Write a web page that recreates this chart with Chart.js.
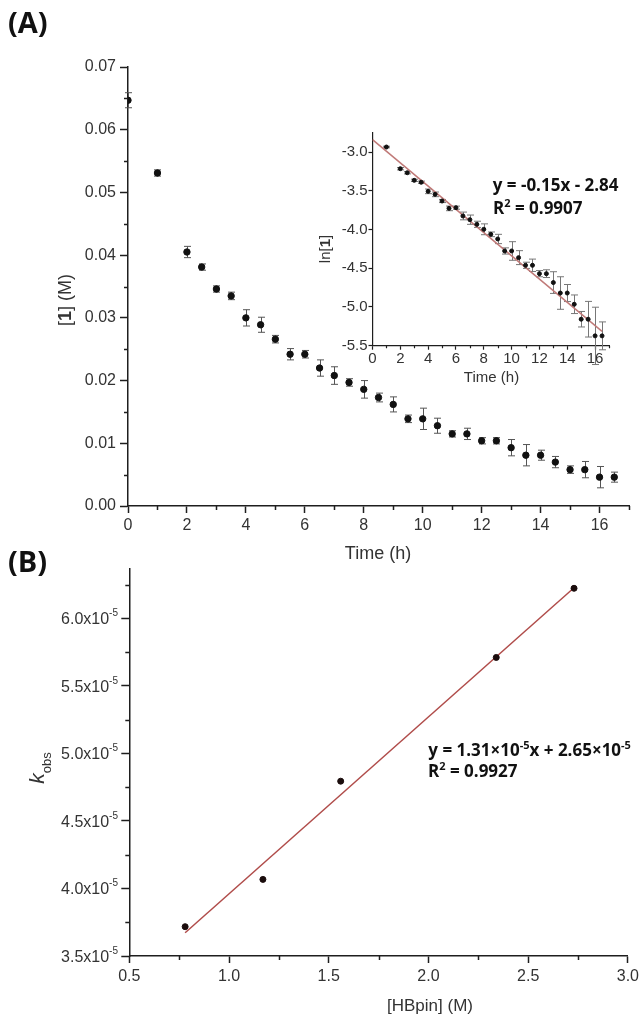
<!DOCTYPE html>
<html>
<head>
<meta charset="utf-8">
<script src="https://cdn.jsdelivr.net/npm/chart.js@4.4.0/dist/chart.umd.min.js"></script>
<style>
  html, body { margin: 0; padding: 0; background: #fff; }
  #page { position: relative; width: 643px; height: 1020px; overflow: hidden; }
  canvas { position: absolute; }
</style>
</head>
<body>
<div id="page">
  <canvas id="chartA" width="643" height="575" style="left:0;top:0"></canvas>
  <canvas id="chartInset" width="343" height="270" style="left:300px;top:120px"></canvas>
  <canvas id="chartB" width="643" height="480" style="left:0;top:540px"></canvas>
</div>
<script>
// ---- panel A: [1] vs time ----
const timeA = [0, 1, 2, 2.5, 3, 3.5, 4, 4.5, 5, 5.5, 6, 6.5, 7, 7.5, 8, 8.5, 9, 9.5, 10, 10.5,
  11, 11.5, 12, 12.5, 13, 13.5, 14, 14.5, 15, 15.5, 16, 16.5];
const concA = [0.0647, 0.0531, 0.0405, 0.0381, 0.0346, 0.0335, 0.0300, 0.0289, 0.0266, 0.0242,
  0.0242, 0.0220, 0.0208, 0.0197, 0.0186, 0.0173, 0.0162, 0.0139, 0.0139, 0.0128,
  0.0115, 0.0115, 0.0104, 0.0104, 0.0093, 0.0081, 0.0081, 0.0070, 0.0058, 0.0058, 0.0046, 0.0046];
const errA = [0.0012, 0.0005, 0.0009, 0.0005, 0.0005, 0.0006, 0.0013, 0.0012, 0.0006, 0.0009,
  0.0006, 0.0013, 0.0014, 0.0006, 0.0014, 0.0007, 0.0012, 0.0006, 0.0017, 0.0012,
  0.0005, 0.0009, 0.0005, 0.0005, 0.0013, 0.0017, 0.0008, 0.0009, 0.0006, 0.0013, 0.0017, 0.0008];
const ticksAX = [0, 2, 4, 6, 8, 10, 12, 14, 16];
const minorAX = [1, 3, 5, 7, 9, 11, 13, 15, 17];
const ticksAY = [0, 0.01, 0.02, 0.03, 0.04, 0.05, 0.06, 0.07];
const minorAY = [0.005, 0.015, 0.025, 0.035, 0.045, 0.055, 0.065];

// ---- inset: ln[1] vs time ----
const timeLn = [1, 2, 2.5, 3, 3.5, 4, 4.5, 5, 5.5, 6, 6.5, 7, 7.5, 8, 8.5, 9, 9.5, 10, 10.5,
  11, 11.5, 12, 12.5, 13, 13.5, 14, 14.5, 15, 15.5, 16, 16.5];
const lnA = [-2.935, -3.215, -3.267, -3.365, -3.39, -3.507, -3.546, -3.632, -3.727, -3.718,
  -3.825, -3.873, -3.933, -3.997, -4.062, -4.122, -4.277, -4.277, -4.363, -4.462,
  -4.462, -4.57, -4.57, -4.685, -4.82, -4.82, -4.965, -5.158, -5.158, -5.373, -5.373];
const errLn = [0.01, 0.015, 0.015, 0.015, 0.015, 0.03, 0.03, 0.02, 0.03, 0.02,
  0.05, 0.06, 0.04, 0.07, 0.03, 0.06, 0.04, 0.12, 0.09, 0.04,
  0.08, 0.04, 0.05, 0.14, 0.21, 0.11, 0.12, 0.1, 0.23, 0.37, 0.18];
const fitLnX = [0, 16.5];
const fitLnY = [-2.84, -5.315];
const ticksLnX = [0, 2, 4, 6, 8, 10, 12, 14, 16];
const minorLnX = [1, 3, 5, 7, 9, 11, 13, 15, 17];
const ticksLnY = [-5.5, -5.0, -4.5, -4.0, -3.5, -3.0];

// ---- panel B: kobs vs [HBpin] ----
const hbpin = [0.78, 1.17, 1.56, 2.34, 2.73];
const kobs = [3.717e-5, 4.067e-5, 4.794e-5, 5.71e-5, 6.222e-5];
const fitBX = [0.78, 2.73];
const fitBY = [3.672e-5, 6.226e-5];
const ticksBX = [0.5, 1.0, 1.5, 2.0, 2.5, 3.0];
const minorBX = [0.75, 1.25, 1.75, 2.25, 2.75];
const ticksBY = [3.5e-5, 4.0e-5, 4.5e-5, 5.0e-5, 5.5e-5, 6.0e-5];
const labelsBY = ['3.5', '4.0', '4.5', '5.0', '5.5', '6.0'];
const minorBY = [3.75e-5, 4.25e-5, 4.75e-5, 5.25e-5, 5.75e-5, 6.25e-5];

const SANS = '"Liberation Sans", Arial, sans-serif';
const EQ = '"Open Sans", sans-serif';
const AXIS = '#1e1e1e';
const TEXT = '#333';

// draws a row of differently styled text pieces (bold digit, superscripts...)
function drawRuns(ctx, runs, x, y, align, rotate) {
  ctx.save();
  ctx.translate(x, y);
  if (rotate) ctx.rotate(rotate);
  ctx.textBaseline = 'alphabetic';
  ctx.textAlign = 'left';
  let w = 0;
  for (const r of runs) { ctx.font = r.font; w += ctx.measureText(r.text).width; }
  let cx = align === 'center' ? -w / 2 : align === 'right' ? -w : 0;
  for (const r of runs) {
    ctx.font = r.font;
    ctx.fillStyle = r.color || TEXT;
    ctx.fillText(r.text, cx, r.dy || 0);
    cx += ctx.measureText(r.text).width;
  }
  ctx.restore();
}

function extras(spec) {
  return {
    id: 'extras',
    beforeDatasetsDraw(chart) {
      if (!spec.errors) return;
      const { ctx, scales: { x, y } } = chart;
      const e = spec.errors;
      ctx.save();
      ctx.strokeStyle = e.color;
      ctx.lineWidth = 1;
      ctx.beginPath();
      e.xs.forEach((t, i) => {
        const px = Math.round(x.getPixelForValue(t)) + 0.5;
        const top = y.getPixelForValue(e.ys[i] + e.err[i]);
        const bot = y.getPixelForValue(e.ys[i] - e.err[i]);
        ctx.moveTo(px, top); ctx.lineTo(px, bot);
        ctx.moveTo(px - e.cap, top); ctx.lineTo(px + e.cap, top);
        ctx.moveTo(px - e.cap, bot); ctx.lineTo(px + e.cap, bot);
      });
      ctx.stroke();
      ctx.restore();
    },
    afterDraw(chart) {
      const { ctx, scales: { x, y }, chartArea: a } = chart;
      ctx.save();
      ctx.strokeStyle = AXIS;
      ctx.lineWidth = spec.tickWidth;
      ctx.beginPath();
      (spec.minorX || []).forEach(v => {
        const p = Math.round(x.getPixelForValue(v)) + 0.5;
        ctx.moveTo(p, a.bottom); ctx.lineTo(p, a.bottom + spec.minorLen);
      });
      (spec.minorY || []).forEach(v => {
        const p = Math.round(y.getPixelForValue(v)) + 0.5;
        ctx.moveTo(a.left, p); ctx.lineTo(a.left - spec.minorLen, p);
      });
      ctx.stroke();
      ctx.restore();
      if (spec.texts) spec.texts(chart, ctx);
    }
  };
}

function setTicks(values) {
  return scale => { scale.ticks = values.map(v => ({ value: v })); };
}

function axisOpts(o) {
  return {
    type: 'linear',
    min: o.min, max: o.max,
    afterBuildTicks: setTicks(o.ticks),
    afterFit: o.fit,
    border: { display: true, color: AXIS, width: o.lw },
    grid: { drawOnChartArea: false, drawTicks: true, tickLength: o.tl, color: AXIS, tickColor: AXIS, tickWidth: o.lw },
    ticks: {
      display: o.labels !== false,
      color: TEXT,
      padding: o.pad,
      font: { family: SANS, size: o.fs },
      callback: o.cb || (v => v)
    }
  };
}

// ---------- main chart A ----------
new Chart(document.getElementById('chartA'), {
  type: 'scatter',
  data: {
    datasets: [{
      label: '[1]',
      data: timeA.map((t, i) => ({ x: t, y: concA[i] })),
      backgroundColor: '#111',
      borderColor: '#111',
      pointRadius: 3.2,
      pointHoverRadius: 3.2
    }]
  },
  options: {
    responsive: false,
    animation: false,
    devicePixelRatio: 1,
    layout: { padding: { left: 0, top: 67, right: 14, bottom: 0 } },
    plugins: { legend: { display: false }, tooltip: { enabled: false } },
    scales: {
      x: axisOpts({ min: 0, max: 17, ticks: ticksAX, lw: 1.5, tl: 7, pad: 3, fs: 16,
        fit: s => { s.height = 575 - 506; } }),
      y: axisOpts({ min: 0, max: 0.07, ticks: ticksAY, lw: 1.5, tl: 8, pad: 4, fs: 16,
        cb: v => v.toFixed(2), fit: s => { s.width = 128; } })
    }
  },
  plugins: [extras({
    errors: { xs: timeA, ys: concA, err: errA, cap: 3.5, color: '#555' },
    minorX: minorAX, minorY: minorAY, minorLen: 4, tickWidth: 1.5,
    texts: (chart, ctx) => {
      drawRuns(ctx, [{ text: '(A)', font: `bold 29px ${EQ}`, color: '#111' }], 8, 33, 'left');
      drawRuns(ctx, [{ text: 'Time (h)', font: `18px ${SANS}` }], 378, 559, 'center');
      drawRuns(ctx, [
        { text: '[', font: `18px ${SANS}` },
        { text: '1', font: `bold 18px ${SANS}` },
        { text: '] (M)', font: `18px ${SANS}` }
      ], 71, 300, 'center', -Math.PI / 2);
    }
  })]
});

// ---------- inset ----------
new Chart(document.getElementById('chartInset'), {
  type: 'scatter',
  data: {
    datasets: [{
      label: 'ln[1]',
      data: timeLn.map((t, i) => ({ x: t, y: lnA[i] })),
      backgroundColor: '#111',
      borderColor: '#111',
      pointRadius: 2,
      pointHoverRadius: 2,
      order: 1
    }, {
      type: 'line',
      label: 'fit',
      data: fitLnX.map((t, i) => ({ x: t, y: fitLnY[i] })),
      borderColor: '#c07a78',
      borderWidth: 1.5,
      pointRadius: 0,
      fill: false,
      order: 2
    }]
  },
  options: {
    responsive: false,
    animation: false,
    devicePixelRatio: 1,
    layout: { padding: { left: 0, top: 12.7, right: 34, bottom: 0 } },
    plugins: { legend: { display: false }, tooltip: { enabled: false } },
    scales: {
      x: axisOpts({ min: 0, max: 17, ticks: ticksLnX, lw: 1.2, tl: 4, pad: 0, fs: 15,
        fit: s => { s.height = 270 - 225.7; } }),
      y: axisOpts({ min: -5.5, max: -2.75, ticks: ticksLnY, lw: 1.2, tl: 4, pad: 1, fs: 15,
        cb: v => v.toFixed(1), fit: s => { s.width = 72.5; } })
    }
  },
  plugins: [extras({
    errors: { xs: timeLn, ys: lnA, err: errLn, cap: 3.5, color: '#777' },
    minorX: minorLnX, minorY: [], minorLen: 2.5, tickWidth: 1.2,
    texts: (chart, ctx) => {
      drawRuns(ctx, [{ text: 'Time (h)', font: `15px ${SANS}` }], 191.5, 262, 'center');
      drawRuns(ctx, [
        { text: 'ln[', font: `15px ${SANS}` },
        { text: '1', font: `bold 15px ${SANS}` },
        { text: ']', font: `15px ${SANS}` }
      ], 30, 129, 'center', -Math.PI / 2);
      drawRuns(ctx, [{ text: 'y = -0.15x - 2.84', font: `bold 17px ${EQ}`, color: '#111' }], 192.7, 71, 'left');
      drawRuns(ctx, [
        { text: 'R', font: `bold 17px ${EQ}`, color: '#111' },
        { text: '2', font: `bold 11px ${EQ}`, color: '#111', dy: -7 },
        { text: ' = 0.9907', font: `bold 17px ${EQ}`, color: '#111' }
      ], 193, 94, 'left');
    }
  })]
});

// ---------- panel B ----------
new Chart(document.getElementById('chartB'), {
  type: 'scatter',
  data: {
    datasets: [{
      label: 'kobs',
      data: hbpin.map((c, i) => ({ x: c, y: kobs[i] })),
      backgroundColor: '#1a0c0c',
      borderColor: '#1a0c0c',
      pointRadius: 3,
      pointHoverRadius: 3,
      order: 1
    }, {
      type: 'line',
      label: 'fit',
      data: fitBX.map((c, i) => ({ x: c, y: fitBY[i] })),
      borderColor: '#b04c4a',
      borderWidth: 1.5,
      pointRadius: 0,
      fill: false,
      order: 2
    }]
  },
  options: {
    responsive: false,
    animation: false,
    devicePixelRatio: 1,
    layout: { padding: { left: 0, top: 28.3, right: 13, bottom: 0 } },
    plugins: { legend: { display: false }, tooltip: { enabled: false } },
    scales: {
      x: axisOpts({ min: 0.5, max: 3.0, ticks: ticksBX, lw: 1.5, tl: 7, pad: 4, fs: 16,
        cb: v => v.toFixed(1), fit: s => { s.height = 480 - 416; } }),
      y: axisOpts({ min: 3.5e-5, max: 6.37e-5, ticks: ticksBY, lw: 1.5, tl: 8, pad: 4, fs: 16,
        labels: false, fit: s => { s.width = 129.3; } })
    }
  },
  plugins: [extras({
    minorX: minorBX, minorY: minorBY, minorLen: 4, tickWidth: 1.5,
    texts: (chart, ctx) => {
      const y = chart.scales.y;
      ticksBY.forEach((v, i) => {
        drawRuns(ctx, [
          { text: labelsBY[i] + 'x10', font: `16px ${SANS}` },
          { text: '-5', font: `10px ${SANS}`, dy: -8 }
        ], 118, y.getPixelForValue(v) + 6, 'right');
      });
      drawRuns(ctx, [{ text: '(B)', font: `bold 29px ${EQ}`, color: '#111' }], 8, 31.5, 'left');
      drawRuns(ctx, [{ text: '[HBpin] (M)', font: `17px ${SANS}` }], 430, 471, 'center');
      drawRuns(ctx, [
        { text: 'k', font: `italic 21px ${SANS}` },
        { text: 'obs', font: `13px ${SANS}`, dy: 7 }
      ], 44, 228, 'center', -Math.PI / 2);
      drawRuns(ctx, [
        { text: 'y = 1.31', font: `bold 17px ${EQ}`, color: '#111' },
        { text: '×10', font: `bold 17px ${EQ}`, color: '#111' },
        { text: '-5', font: `bold 11px ${EQ}`, color: '#111', dy: -7 },
        { text: 'x + 2.65', font: `bold 17px ${EQ}`, color: '#111' },
        { text: '×10', font: `bold 17px ${EQ}`, color: '#111' },
        { text: '-5', font: `bold 11px ${EQ}`, color: '#111', dy: -7 }
      ], 428.3, 216, 'left');
      drawRuns(ctx, [
        { text: 'R', font: `bold 17px ${EQ}`, color: '#111' },
        { text: '2', font: `bold 11px ${EQ}`, color: '#111', dy: -7 },
        { text: ' = 0.9927', font: `bold 17px ${EQ}`, color: '#111' }
      ], 428, 237, 'left');
    }
  })]
});
</script>
</body>
</html>
